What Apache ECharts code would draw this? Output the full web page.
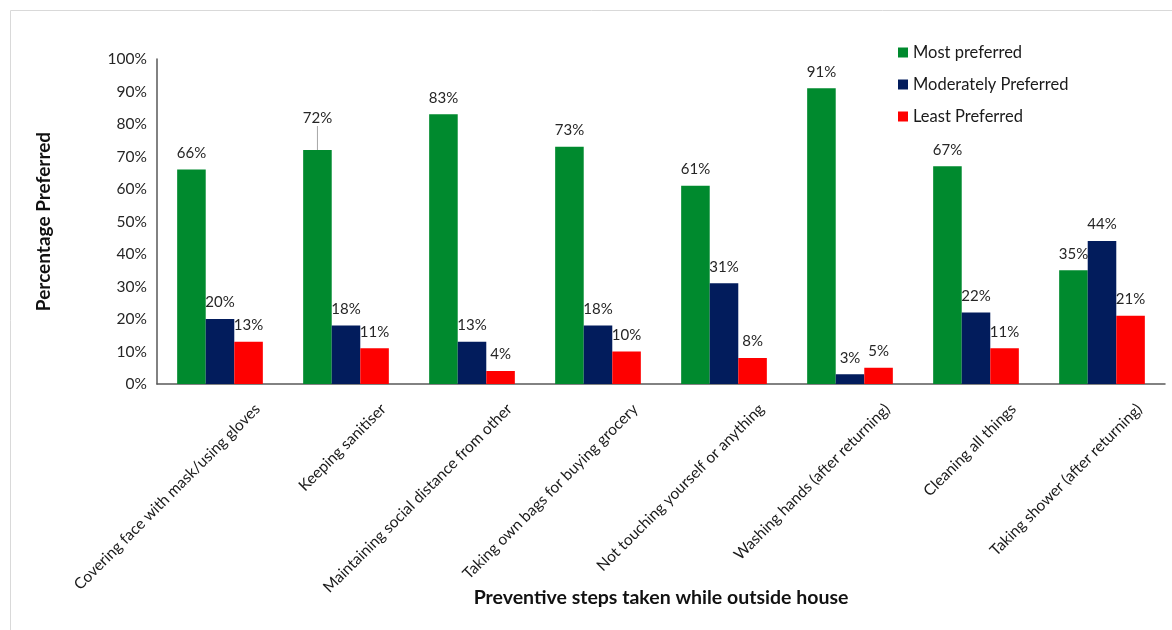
<!DOCTYPE html>
<html>
<head>
    <meta http-equiv="content-type" content="text/html;charset=utf-8">
    <script src="https://cdn.jsdelivr.net/npm/echarts@6/dist/echarts.min.js"></script>
    <style>
        html, body { margin: 0; padding: 0; background: #fff; }
        #main { width: 1172px; height: 630px; }
    </style>
</head>
<body>
<div id="main"></div>

<script type="text/javascript">
    // categories (x axis)
    var steps = [
        'Covering face with mask/using gloves',
        'Keeping sanitiser',
        'Maintaining social distance from other',
        'Taking own bags for buying grocery',
        'Not touching yourself or anything',
        'Washing hands (after returning)',
        'Cleaning all things',
        'Taking shower (after returning)'
    ];
    var seriesNames = ['Most preferred', 'Moderately Preferred', 'Least Preferred'];
    var mostPreferred = [66, 72, 83, 73, 61, 91, 67, 35];
    var moderatelyPreferred = [20, 18, 13, 18, 31, 3, 22, 44];
    var leastPreferred = [13, 11, 4, 10, 8, 5, 11, 21];
    var yTicks = [0, 10, 20, 30, 40, 50, 60, 70, 80, 90, 100];

    var colors = ['#008A2E', '#021C5C', '#FE0000'];
    var font = 'Lato';

    var chart = echarts.init(document.getElementById('main'));

    function labelCfg() {
        return {
            show: true,
            position: 'top',
            distance: 9,
            formatter: '{c}%',
            fontFamily: font,
            fontSize: 15,
            color: '#262626'
        };
    }

    // the 72% label sits higher with a leader line in the original
    var mostData = mostPreferred.map(function (v, i) {
        if (i === 1) {
            return { value: v, labelLine: { show: true, lineStyle: { color: '#a6a6a6', width: 1 } } };
        }
        return v;
    });

    var option = {
        animation: false,
        color: colors,
        graphic: [{
            type: 'rect',
            shape: { x: 10.5, y: 10.5, width: 1200, height: 700 },
            style: { fill: 'none', stroke: '#d9d9d9', lineWidth: 1 },
            silent: true
        }],
        legend: {
            orient: 'vertical',
            left: 893,
            top: 39,
            icon: 'rect',
            itemWidth: 10,
            itemHeight: 10,
            itemGap: 15,
            textStyle: { fontFamily: font, fontSize: 16.5, color: '#1a1a1a' },
            data: seriesNames
        },
        grid: { left: 157, top: 59, right: 7, bottom: 246 },
        xAxis: {
            type: 'category',
            data: steps,
            name: 'Preventive steps taken while outside house',
            nameLocation: 'middle',
            nameGap: 204,
            nameMoveOverlap: false,
            nameTextStyle: { fontFamily: font, fontSize: 19.5, fontWeight: 'bold', color: '#111' },
            axisLine: { lineStyle: { color: '#595959', width: 1.5 } },
            axisTick: { show: false },
            axisLabel: {
                interval: 0,
                rotate: 45,
                margin: 2,
                verticalAlign: 'top',
                padding: [33, -12, 0, 0],
                fontFamily: font,
                fontSize: 15.5,
                color: '#1a1a1a'
            }
        },
        yAxis: {
            type: 'value',
            min: yTicks[0],
            max: yTicks[yTicks.length - 1],
            interval: 10,
            name: 'Percentage Preferred',
            nameLocation: 'middle',
            nameGap: 104,
            nameMoveOverlap: false,
            nameTextStyle: { fontFamily: font, fontSize: 19, fontWeight: 'bold', color: '#111' },
            axisLine: { show: true, lineStyle: { color: '#595959', width: 1.5 } },
            axisTick: { show: false },
            splitLine: { show: false },
            axisLabel: {
                margin: 10,
                formatter: '{value}%',
                fontFamily: font,
                fontSize: 15.5,
                color: '#262626'
            }
        },
        series: [
            {
                name: seriesNames[0],
                type: 'bar',
                barGap: 0,
                barCategoryGap: '32%',
                data: mostData,
                label: labelCfg(),
                labelLayout: function (params) {
                    if (params.dataIndex === 1) {
                        return { dy: -15 };
                    }
                }
            },
            {
                name: seriesNames[1],
                type: 'bar',
                barGap: 0,
                barCategoryGap: '32%',
                data: moderatelyPreferred,
                label: labelCfg()
            },
            {
                name: seriesNames[2],
                type: 'bar',
                barGap: 0,
                barCategoryGap: '32%',
                data: leastPreferred,
                label: labelCfg()
            }
        ]
    };

    chart.setOption(option);
</script>

</body>
</html>
